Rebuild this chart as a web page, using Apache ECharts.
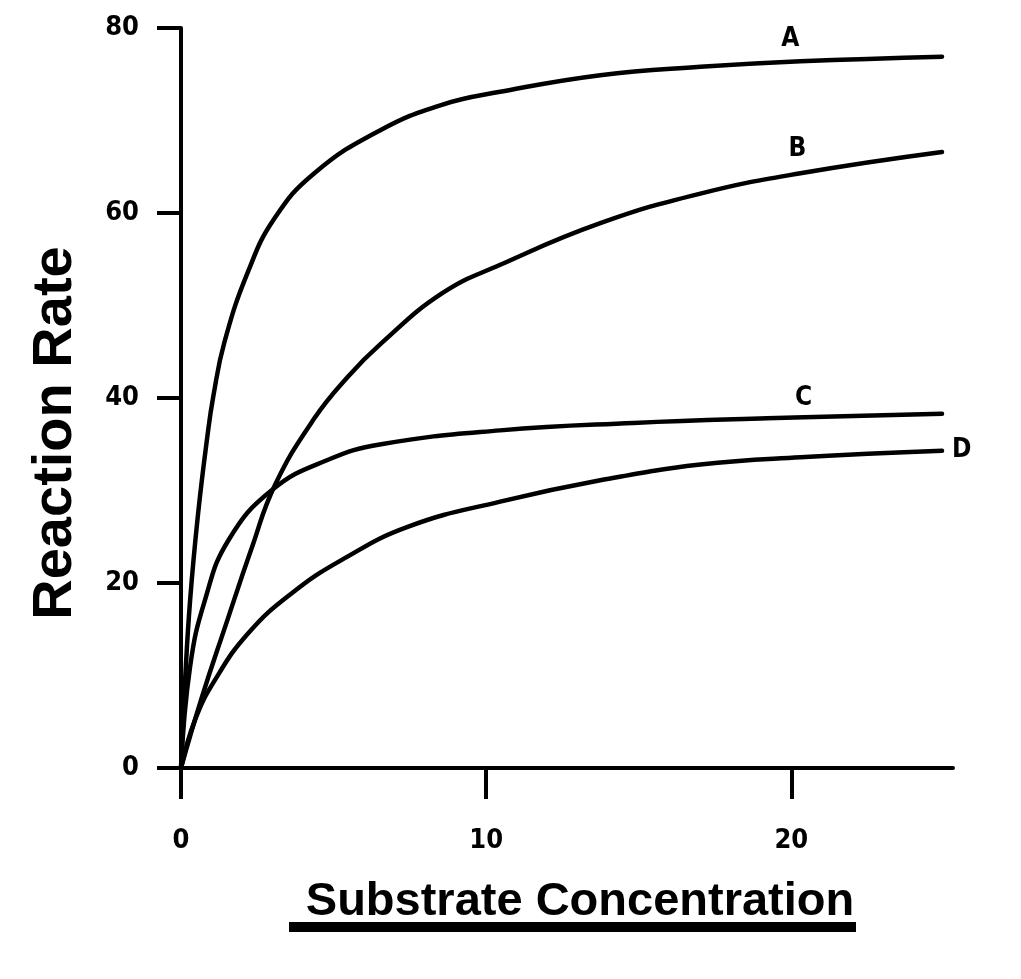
<!DOCTYPE html>
<html>
<head>
<meta charset="utf-8">
<script src="https://cdn.jsdelivr.net/npm/echarts@6/dist/echarts.min.js"></script>
<style>
html,body{margin:0;padding:0;background:#fff;}
#chart{width:1021px;height:979px;}
</style>
</head>
<body>
<div id="chart"></div>
<script>
// Values
const xTicks = [0, 10, 20];
const yTicks = [0, 20, 40, 60, 80];

const aX = [0, 0.13, 0.30, 0.56, 0.87, 1.06, 1.42, 2.19, 3.06, 4.37, 6.50, 8.55, 10.46, 13.74, 17.02, 20.30, 24.94];
const aY = [0, 9.2, 18.2, 27.5, 36.0, 40.2, 46.0, 53.6, 59.4, 64.3, 68.9, 71.7, 73.1, 74.9, 75.8, 76.4, 76.9];

const bX = [0, 0.68, 1.44, 2.32, 3.08, 4.37, 5.47, 6.56, 8.55, 10.46, 13.74, 17.02, 20.30, 24.94];
const bY = [0, 7.6, 15.2, 23.8, 30.6, 37.8, 42.3, 45.9, 51.3, 54.4, 58.9, 62.1, 64.3, 66.6];

const cX = [0, 0.30, 0.79, 1.55, 3.00, 4.80, 6.56, 10.46, 14.82, 19.20, 24.94];
const cY = [0, 11.0, 18.2, 24.6, 30.1, 33.3, 35.0, 36.5, 37.3, 37.8, 38.3];

const dX = [0, 0.46, 1.11, 2.21, 3.63, 5.27, 7.45, 10.46, 13.74, 17.02, 20.30, 24.94];
const dY = [0, 5.2, 9.5, 14.6, 18.9, 22.5, 26.1, 28.8, 31.1, 32.8, 33.6, 34.3];

const curveNames = ['A', 'B', 'C', 'D'];
const labelX = [19.97, 20.2, 20.4];
const labelY = [78.8, 66.9, 40.0];

const xAxisTitle = 'Substrate Concentration';
const yAxisTitle = 'Reaction Rate';

const curves = [[aX, aY], [bX, bY], [cX, cY], [dX, dY]];
const narrow = "'Liberation Sans Narrow','DejaVu Sans Condensed','Roboto',sans-serif";
const curveLabelStyle = {color: '#000', fontFamily: narrow, fontWeight: 'bold', fontSize: 26};

const chart = echarts.init(document.getElementById('chart'), null, {renderer: 'canvas'});

const series = curves.map(function (c, i) {
  const s = {
    name: curveNames[i],
    type: 'line',
    data: c[0].map(function (x, k) { return [x, c[1][k]]; }),
    smooth: 0.45,
    showSymbol: false,
    lineStyle: {color: '#000', width: 4.5, cap: 'round'},
    z: 3
  };
  if (i < labelX.length) {
    s.markPoint = {
      symbol: 'circle',
      symbolSize: 1,
      itemStyle: {color: 'rgba(0,0,0,0)'},
      label: Object.assign({show: true, position: 'inside', formatter: curveNames[i]}, curveLabelStyle),
      data: [{coord: [labelX[i], labelY[i]]}]
    };
  } else {
    s.endLabel = Object.assign({show: true, distance: 10, formatter: curveNames[i]}, curveLabelStyle);
  }
  return s;
});

chart.setOption({
  animation: false,
  backgroundColor: '#fff',
  grid: {left: 181, right: 68, top: 28, bottom: 211, containLabel: false, outerBoundsMode: 'none'},
  xAxis: {
    type: 'value', min: 0, max: 25.3,
    name: xAxisTitle, nameLocation: 'middle', nameGap: 111,
    nameTextStyle: {
      color: '#000', fontFamily: "'Liberation Sans',Arial,sans-serif",
      fontWeight: 'bold', fontSize: 47, padding: [0, 0, 0, 26]
    },
    axisLine: {lineStyle: {color: '#000', width: 4}},
    axisTick: {show: true, inside: false, length: 31, lineStyle: {color: '#000', width: 4}, customValues: xTicks},
    axisLabel: {color: '#000', fontFamily: narrow, fontWeight: 'bold', fontSize: 27, margin: 59, customValues: xTicks},
    splitLine: {show: false}
  },
  yAxis: {
    type: 'value', min: 0, max: 80, interval: 20,
    name: yAxisTitle, nameLocation: 'middle', nameGap: 97, nameRotate: 90,
    nameTextStyle: {
      color: '#000', fontFamily: "'Liberation Sans',Arial,sans-serif",
      fontWeight: 'bold', fontSize: 56, padding: [0, 70, 0, 0]
    },
    axisLine: {show: true, lineStyle: {color: '#000', width: 4}},
    axisTick: {show: true, inside: false, length: 24, lineStyle: {color: '#000', width: 4}, customValues: yTicks},
    axisLabel: {color: '#000', fontFamily: narrow, fontWeight: 'bold', fontSize: 27, margin: 42, customValues: yTicks},
    splitLine: {show: false}
  },
  graphic: [{
    type: 'rect', left: 289, top: 922,
    shape: {width: 567, height: 10},
    style: {fill: '#000'}
  }],
  series: series
});
</script>
</body>
</html>
